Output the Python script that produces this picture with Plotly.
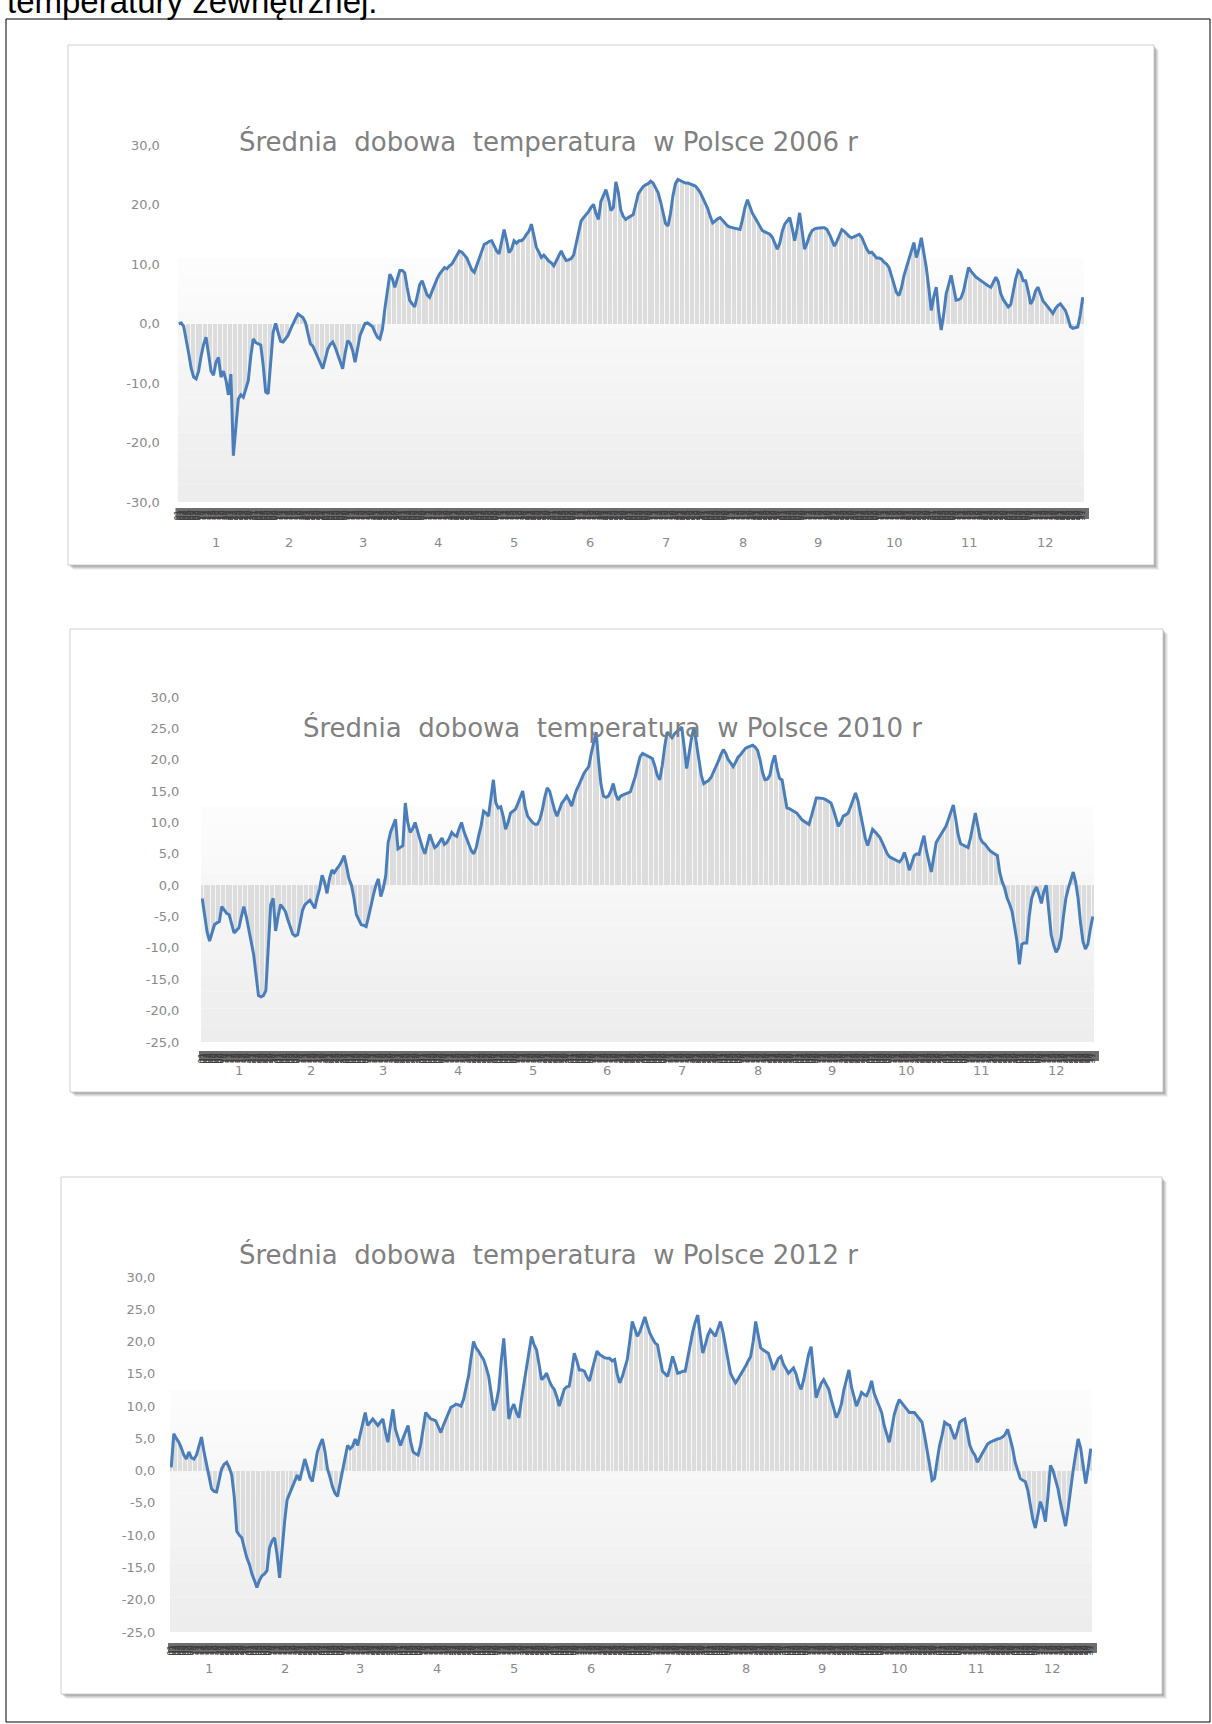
import plotly.graph_objects as go

W, H = 1212, 1724

# ---- data: mean daily temperature in Poland (°C), one value per day ----
MONTHS = ["1", "2", "3", "4", "5", "6", "7", "8", "9", "10", "11", "12"]
DAYS_NORMAL = [31, 28, 31, 30, 31, 30, 31, 31, 30, 31, 30, 31]
DAYS_LEAP = [31, 29, 31, 30, 31, 30, 31, 31, 30, 31, 30, 31]

t2006 = [
    # I
    0.0, 0.1, -0.5, -2.5, -5.0, -7.5, -9.0, -9.3, -8.0, -5.5, -3.5, -2.3, -5.0, -8.0, -8.7, -6.5,
    -5.7, -9.0, -8.0, -9.5, -12.0, -8.5, -22.2, -18.0, -12.7, -12.0, -12.4, -11.0, -9.6, -5.5, -2.6,
    # II
    -3.2, -3.4, -3.6, -7.0, -11.5, -11.8, -6.0, -1.5, 0.0, -1.5, -3.0, -3.1, -2.5, -2.0,
    -1.0, 0.0, 0.8, 1.6, 1.3, 1.0, 0.2, -1.5, -3.4, -3.8, -4.8, -5.5, -6.5, -7.6,
    # III
    -6.0, -4.3, -3.5, -3.1, -4.0, -5.1, -6.5, -7.6, -5.0, -2.9, -3.3, -4.5, -6.5, -4.0, -2.0, -1.0,
    0.0, 0.1, -0.2, -0.5, -1.5, -2.3, -2.6, -1.0, 2.5, 5.5, 8.3, 7.5, 6.1, 7.5, 8.9,
    # IV
    8.9, 8.5, 6.0, 3.9, 3.3, 2.8, 4.5, 6.5, 7.2, 6.0, 4.8, 4.4, 5.5, 6.7, 7.5,
    8.3, 8.9, 9.4, 9.2, 9.7, 10.0, 10.8, 11.5, 12.2, 12.0, 11.5, 11.0, 10.0, 9.0, 8.6,
    # V
    9.8, 11.1, 12.0, 13.3, 13.5, 13.8, 13.9, 13.0, 12.2, 11.7, 13.5, 15.8, 14.0, 11.9, 12.5, 13.9,
    13.5, 13.9, 13.9, 14.3, 15.0, 15.5, 16.7, 14.5, 12.8, 12.0, 11.1, 11.5, 11.0, 10.5, 10.2,
    # VI
    9.7, 10.5, 11.5, 12.2, 11.3, 10.6, 10.7, 10.9, 11.5, 13.5, 15.8, 17.2, 17.8, 18.3, 18.8,
    19.5, 20.0, 18.5, 17.5, 20.5, 21.5, 22.5, 21.0, 19.0, 19.5, 23.8, 22.0, 19.0, 18.0, 17.5,
    # VII
    17.8, 18.0, 18.3, 20.0, 21.8, 22.4, 23.0, 23.3, 23.5, 23.9, 23.6, 22.8, 22.0, 20.5, 18.5, 16.8,
    16.4, 18.5, 21.5, 23.5, 24.2, 24.0, 23.8, 23.6, 23.6, 23.4, 23.2, 23.1, 22.6, 22.0, 21.1,
    # VIII
    20.3, 19.3, 18.0, 16.9, 17.2, 17.6, 17.8, 17.3, 16.8, 16.4, 16.2, 16.1, 16.0, 15.9, 15.8, 17.5,
    19.5, 20.8, 19.5, 18.5, 17.8, 17.0, 16.2, 15.6, 15.4, 15.2, 15.0, 14.5, 13.5, 12.5, 13.5,
    # IX
    15.5, 16.7, 17.2, 17.8, 16.0, 13.9, 16.0, 18.6, 15.5, 12.5, 13.5, 14.8, 15.6, 15.9, 16.0,
    16.1, 16.1, 16.1, 15.8, 15.0, 14.0, 13.0, 13.8, 14.8, 15.8, 15.5, 15.0, 14.6, 14.4, 14.6,
    # X
    14.8, 15.0, 14.5, 13.5, 12.5, 11.9, 12.0, 11.5, 11.0, 11.0, 10.8, 10.3, 10.0, 9.4, 8.0, 6.5,
    5.2, 4.7, 6.0, 8.0, 9.4, 11.0, 12.5, 13.6, 11.1, 12.5, 14.4, 12.0, 9.4, 6.0, 2.2,
    # XI
    4.5, 6.1, 2.0, -1.1, 1.5, 5.0, 6.5, 8.1, 6.0, 3.9, 4.0, 4.3, 5.5, 7.5, 9.4,
    8.8, 8.3, 7.8, 7.5, 7.2, 6.8, 6.5, 6.3, 6.1, 7.0, 7.8, 7.0, 5.0, 4.0, 3.3,
    # XII
    2.8, 3.2, 5.5, 7.5, 8.9, 8.5, 7.2, 7.2, 5.5, 3.3, 4.0, 5.5, 6.1, 5.0, 3.8, 3.3,
    2.8, 2.2, 1.7, 2.5, 3.0, 3.3, 2.8, 2.2, 1.0, -0.5, -0.8, -0.7, -0.6, 1.5, 4.4,
]

t2010 = [
    # I
    -2.1, -5.2, -7.5, -8.9, -7.5, -6.3, -6.0, -5.8, -3.4, -4.0, -4.5, -4.7, -6.0, -7.6, -7.2, -6.8,
    -5.0, -3.4, -5.0, -7.3, -9.0, -11.0, -14.0, -17.6, -17.8, -17.6, -16.8, -9.0, -3.1, -2.1, -7.3,
    # II
    -5.0, -3.1, -3.6, -4.2, -5.5, -6.8, -7.8, -8.1, -7.9, -6.0, -4.0, -3.1, -2.7, -2.4,
    -3.0, -3.7, -2.0, -0.5, 1.6, 0.5, -1.3, 1.0, 2.4, 2.0, 2.6, 3.1, 3.8, 4.7,
    # III
    3.0, 1.0, 0.0, -2.0, -4.7, -5.5, -6.3, -6.4, -6.6, -5.0, -3.1, -1.5, 0.0, 1.0, -1.8, -0.5,
    1.5, 6.8, 8.5, 9.5, 10.5, 5.8, 6.0, 6.3, 13.1, 10.0, 8.4, 9.0, 10.0, 8.5, 7.3,
    # IV
    6.0, 5.0, 6.5, 8.1, 7.0, 6.0, 6.3, 7.0, 7.5, 6.5, 6.8, 7.5, 8.4, 8.0, 7.8,
    9.0, 10.0, 8.5, 7.5, 6.5, 5.5, 5.0, 6.0, 7.9, 9.5, 11.8, 11.5, 11.0, 14.0, 16.8,
    # V
    13.1, 12.3, 12.5, 11.0, 8.9, 10.0, 11.5, 11.8, 12.1, 13.0, 14.0, 15.0, 12.5, 11.0, 10.5, 10.0,
    9.7, 9.7, 10.5, 12.0, 14.0, 15.5, 15.0, 13.5, 12.0, 11.0, 12.0, 13.1, 13.6, 14.2, 13.5,
    # VI
    12.6, 14.0, 15.2, 16.0, 17.0, 17.8, 18.4, 18.9, 21.0, 23.0, 24.4, 19.9, 16.0, 14.2, 14.0,
    14.2, 15.0, 16.2, 14.5, 13.6, 14.2, 14.4, 14.5, 14.7, 14.9, 16.0, 17.3, 19.0, 20.5, 21.0,
    # VII
    20.8, 20.6, 20.3, 20.2, 19.0, 17.5, 16.8, 19.0, 22.0, 24.4, 24.0, 23.5, 24.1, 24.5, 24.8, 25.2,
    22.0, 18.6, 21.0, 23.5, 25.2, 22.5, 20.0, 17.5, 16.2, 16.5, 16.7, 17.2, 18.0, 18.9, 19.8,
    # VIII
    20.8, 21.6, 21.0, 20.0, 19.5, 18.9, 19.6, 20.4, 20.8, 21.3, 21.8, 22.0, 22.1, 22.3, 22.0, 21.5,
    20.0, 18.0, 16.8, 16.9, 17.5, 19.5, 20.7, 18.5, 17.0, 16.8, 14.5, 12.3, 12.2, 12.0, 11.8,
    # IX
    11.5, 11.0, 10.5, 10.2, 10.0, 9.7, 11.0, 12.5, 13.9, 13.9, 13.9, 13.8, 13.6, 13.4, 13.1,
    12.0, 10.5, 9.4, 10.0, 11.0, 11.2, 11.5, 12.5, 13.8, 14.7, 13.5, 11.5, 9.0, 7.5, 6.3,
    # X
    7.5, 8.9, 8.5, 8.0, 7.6, 6.8, 6.0, 5.0, 4.5, 4.3, 4.0, 3.8, 3.7, 4.2, 5.2, 4.0,
    2.4, 3.5, 4.7, 5.0, 4.9, 6.5, 7.9, 5.5, 3.5, 2.1, 4.5, 6.8, 7.5, 8.2, 8.8,
    # XI
    9.4, 10.5, 11.8, 12.8, 10.5, 8.0, 6.6, 6.4, 6.2, 6.0, 7.5, 9.8, 11.5, 9.5, 7.5,
    6.8, 6.5, 6.0, 5.5, 5.2, 5.0, 4.7, 2.0, 0.5, -0.5, -2.1, -3.0, -4.2, -6.5, -8.9,
    # XII
    -12.6, -9.4, -9.2, -9.2, -5.0, -2.1, -1.0, -0.3, -1.5, -2.9, -1.0, 0.0, -4.0, -7.9, -9.5, -10.7,
    -10.0, -8.4, -5.0, -2.1, -0.5, 1.0, 2.1, 0.5, -2.1, -6.0, -9.0, -10.2, -9.4, -7.0, -5.0,
]

t2012 = [
    # I
    0.5, 5.7, 5.0, 4.4, 3.5, 2.4, 1.8, 2.9, 2.0, 1.8, 2.4, 3.9, 5.2, 2.9, 1.0, -0.7,
    -2.8, -3.2, -3.3, -1.5, 0.3, 1.0, 1.3, 0.5, -0.7, -4.0, -9.4, -10.0, -10.4, -12.0, -13.5,
    # II
    -14.5, -16.0, -17.0, -18.1, -17.0, -16.3, -16.0, -15.5, -12.0, -10.9, -10.4, -13.0, -16.6, -12.0, -7.9,
    -4.5, -3.5, -2.8, -1.5, -0.7, -1.5, 0.0, 1.8, 0.5, -1.0, -1.7, 0.5, 2.9, 4.0,
    # III
    4.9, 3.0, 0.3, -1.0, -2.5, -3.5, -4.0, -2.0, 0.3, 2.0, 3.9, 3.4, 3.8, 4.9, 3.9, 5.5,
    7.0, 9.0, 7.0, 7.5, 8.0, 7.5, 7.0, 7.5, 8.0, 6.0, 4.4, 7.0, 9.5, 6.4, 5.0,
    # IV
    3.9, 5.0, 6.0, 7.0, 4.5, 2.9, 2.6, 2.4, 4.0, 6.5, 9.0, 8.5, 8.0, 7.9, 7.7,
    6.8, 5.9, 7.0, 8.0, 9.0, 9.8, 10.0, 10.3, 10.2, 10.0, 11.0, 13.0, 14.6, 17.5, 20.0,
    # V
    19.0, 18.5, 17.8, 17.2, 16.0, 14.6, 12.0, 9.3, 10.5, 12.6, 17.0, 20.5, 15.1, 8.0, 9.5, 10.3,
    9.0, 8.2, 11.0, 13.5, 16.2, 19.0, 20.8, 19.5, 18.7, 16.5, 14.1, 14.5, 15.1, 14.0, 13.1,
    # VI
    12.6, 11.5, 10.0, 11.5, 12.6, 13.0, 13.1, 15.5, 18.2, 17.0, 15.6, 15.6, 15.4, 14.5, 13.9,
    15.5, 17.0, 18.5, 18.0, 17.7, 17.5, 17.4, 17.4, 17.0, 17.2, 15.0, 13.6, 14.5, 15.9, 17.2,
    # VII
    20.0, 23.1, 22.0, 20.8, 21.5, 22.8, 23.8, 22.5, 21.3, 20.5, 19.8, 19.5, 17.5, 15.4, 15.0, 14.6,
    16.0, 17.7, 16.5, 15.1, 15.2, 15.4, 15.4, 17.5, 20.0, 21.5, 23.0, 24.1, 21.0, 18.2, 19.5,
    # VIII
    21.0, 21.8, 21.3, 20.8, 22.0, 23.1, 21.5, 19.5, 17.5, 15.1, 14.3, 13.6, 14.2, 14.8, 15.4, 16.2,
    17.0, 17.7, 20.0, 23.1, 21.0, 19.0, 18.7, 18.5, 18.2, 17.0, 15.6, 16.5, 17.4, 17.7, 16.5,
    # IX
    15.8, 15.1, 15.5, 15.9, 15.0, 13.5, 12.6, 14.0, 16.0, 18.0, 19.2, 15.0, 11.3, 12.5, 13.5,
    14.1, 13.3, 12.6, 11.0, 9.5, 8.2, 9.0, 10.3, 12.5, 14.0, 15.6, 13.0, 11.5, 10.0, 11.0,
    # X
    12.1, 11.8, 11.6, 12.5, 13.9, 12.0, 11.0, 10.0, 9.0, 7.0, 5.5, 4.4, 6.5, 8.7, 10.0, 11.0,
    10.5, 10.0, 9.5, 9.0, 9.0, 9.0, 8.5, 8.0, 7.5, 5.5, 3.4, 1.0, -1.5, -1.2, 1.5,
    # XI
    3.9, 5.5, 7.5, 7.2, 7.0, 6.0, 4.9, 6.0, 7.5, 7.8, 8.0, 6.0, 3.9, 3.0, 2.4,
    1.3, 2.0, 2.9, 3.5, 4.1, 4.4, 4.6, 4.7, 4.9, 5.0, 5.2, 5.6, 6.4, 5.0, 3.4,
    # XII
    1.3, 0.0, -1.2, -1.5, -1.7, -3.0, -5.3, -7.5, -8.9, -7.0, -4.8, -6.0, -7.9, -4.0, 0.8, 0.0,
    -1.5, -2.8, -5.0, -7.0, -8.6, -6.0, -2.8, 0.0, 2.5, 4.9, 3.5, 0.5, -2.0, 0.5, 3.4,
]

TICKS_2006 = [-30, -20, -10, 0, 10, 20, 30]
TICKS_2010 = [-25, -20, -15, -10, -5, 0, 5, 10, 15, 20, 25, 30]
TICKS_2012 = [-25, -20, -15, -10, -5, 0, 5, 10, 15, 20, 25, 30]

# ---- page geometry (pixels) ----
panels = [
    dict(year="2006", values=t2006, mdays=DAYS_NORMAL, yr=[-30, 30], ticks=TICKS_2006,
         box=(68, 45, 1154, 565), plot=(177.5, 145, 1084, 502), band=(508, 519),
         title=(548, 141), month_y=542, grad_top=11.0, ticklen_y=14, ticklen_x=4),
    dict(year="2010", values=t2010, mdays=DAYS_NORMAL, yr=[-25, 30], ticks=TICKS_2010,
         box=(70, 629, 1163, 1092), plot=(201, 697, 1094, 1042), band=(1051, 1061),
         title=(612, 727), month_y=1070, grad_top=12.5, ticklen_y=18, ticklen_x=7),
    dict(year="2012", values=t2012, mdays=DAYS_LEAP, yr=[-25, 30], ticks=TICKS_2012,
         box=(61, 1177, 1162, 1694), plot=(170, 1277, 1092, 1632), band=(1643, 1653),
         title=(548, 1254), month_y=1668, grad_top=12.5, ticklen_y=11, ticklen_x=9),
]

GRAY_TXT = "#8a8a8a"
LINE_BLUE = "#4a7ebb"


def fx(px):
    return px / W


def fy(py):
    return 1 - py / H


def fmt(v):
    return f"{v:.1f}".replace(".", ",")


fig = go.Figure()
shapes = []
annotations = []
axes = {}

# outer frame of the page
shapes.append(dict(type="rect", xref="paper", yref="paper", x0=fx(6), x1=fx(1210),
                   y0=fy(1722), y1=fy(19), line=dict(color="#000000", width=1),
                   fillcolor="rgba(0,0,0,0)", layer="above"))

annotations.append(dict(text="temperatury zewnętrznej.", xref="paper", yref="paper",
                        x=fx(6), y=fy(21), xanchor="left", yanchor="bottom",
                        showarrow=False, borderpad=0,
                        font=dict(family="Liberation Sans", size=33, color="#000000")))

for i, p in enumerate(panels, start=1):
    sfx = "" if i == 1 else str(i)
    xa, ya = "x" + sfx, "y" + sfx
    vals = p["values"]
    n = len(vals)
    days = list(range(1, n + 1))
    day_text = [f"{d:02d}" for m in p["mdays"] for d in range(1, m + 1)]

    bx0, by0, bx1, by1 = p["box"]
    # soft drop shadow, then the white chart card
    for off, a in [(5, 0.05), (4, 0.07), (3, 0.09), (2, 0.11), (1, 0.13)]:
        shapes.append(dict(type="rect", xref="paper", yref="paper",
                           x0=fx(bx0 + off), x1=fx(bx1 + off), y0=fy(by1 + off), y1=fy(by0 + off),
                           line=dict(width=0), fillcolor=f"rgba(0,0,0,{a})", layer="below"))
    shapes.append(dict(type="rect", xref="paper", yref="paper",
                       x0=fx(bx0), x1=fx(bx1), y0=fy(by1), y1=fy(by0),
                       line=dict(color="#cfcfcf", width=1), fillcolor="#ffffff", layer="below"))

    px0, py0, px1, py1 = p["plot"]
    # dark strip behind the packed day labels
    b0, b1 = p["band"]
    shapes.append(dict(type="rect", xref="paper", yref="paper",
                       x0=fx(px0 - 2), x1=fx(px1 + 5), y0=fy(b1), y1=fy(b0),
                       line=dict(width=0), fillcolor="#6e6e6e", layer="below"))

    # plot-area gradient fill fading out towards the top
    lo, top = p["yr"][0], p["grad_top"]
    nb = 14
    for k in range(nb):
        y0 = lo + (top - lo) * k / nb
        y1 = lo + (top - lo) * (k + 1) / nb
        g = int(round(237 + (252 - 237) * k / (nb - 1)))
        shapes.append(dict(type="rect", xref=xa, yref=ya, x0=0.5, x1=n + 0.5, y0=y0, y1=y1,
                           line=dict(width=0), fillcolor=f"rgb({g},{g},{g})", layer="below"))

    fig.add_trace(go.Bar(x=days, y=vals, xaxis=xa, yaxis=ya, width=0.5,
                         marker=dict(color="#dcdcdc", line=dict(width=0)),
                         hoverinfo="skip", showlegend=False))
    fig.add_trace(go.Scatter(x=days, y=vals, xaxis=xa, yaxis=ya, mode="lines",
                             line=dict(color=LINE_BLUE, width=3),
                             showlegend=False, hoverinfo="skip"))

    axes["xaxis" + sfx] = dict(
        domain=[fx(px0), fx(px1)], anchor=ya, range=[0.5, n + 0.5],
        tickmode="array", tickvals=days, ticktext=day_text, tickangle=-90,
        tickfont=dict(family="DejaVu Sans", size=8, color="#3c3c3c"),
        ticks="outside", ticklen=p["ticklen_x"], tickcolor="rgba(0,0,0,0)",
        showgrid=False, zeroline=False, showline=False, automargin=False, fixedrange=True)
    axes["yaxis" + sfx] = dict(
        domain=[fy(py1), fy(py0)], anchor=xa, range=p["yr"],
        tickmode="array", tickvals=p["ticks"], ticktext=[fmt(v) for v in p["ticks"]],
        tickfont=dict(family="DejaVu Sans", size=13, color=GRAY_TXT),
        ticks="outside", ticklen=p["ticklen_y"], tickcolor="rgba(0,0,0,0)",
        showgrid=False, zeroline=False, showline=False, automargin=False, fixedrange=True)

    # month numbers under the day labels
    start = 0
    for m, md in zip(MONTHS, p["mdays"]):
        annotations.append(dict(text=m, xref=xa, yref="paper", x=start + (md + 1) / 2,
                                y=fy(p["month_y"]), xanchor="center", yanchor="middle",
                                showarrow=False,
                                font=dict(family="DejaVu Sans", size=13, color=GRAY_TXT)))
        start += md

    tx, ty = p["title"]
    annotations.append(dict(
        text=f"Średnia\u00a0\u00a0dobowa\u00a0\u00a0temperatura\u00a0\u00a0w Polsce {p['year']} r",
        xref="paper", yref="paper", x=fx(tx), y=fy(ty), xanchor="center", yanchor="middle",
        showarrow=False, font=dict(family="DejaVu Sans", size=26, color="#808080")))

fig.update_layout(
    template="none",
    width=W, height=H,
    margin=dict(l=0, r=0, t=0, b=0),
    paper_bgcolor="#ffffff",
    plot_bgcolor="rgba(0,0,0,0)",
    showlegend=False,
    bargap=0,
    shapes=shapes,
    annotations=annotations,
    **axes,
)

fig.write_html("out.html")
